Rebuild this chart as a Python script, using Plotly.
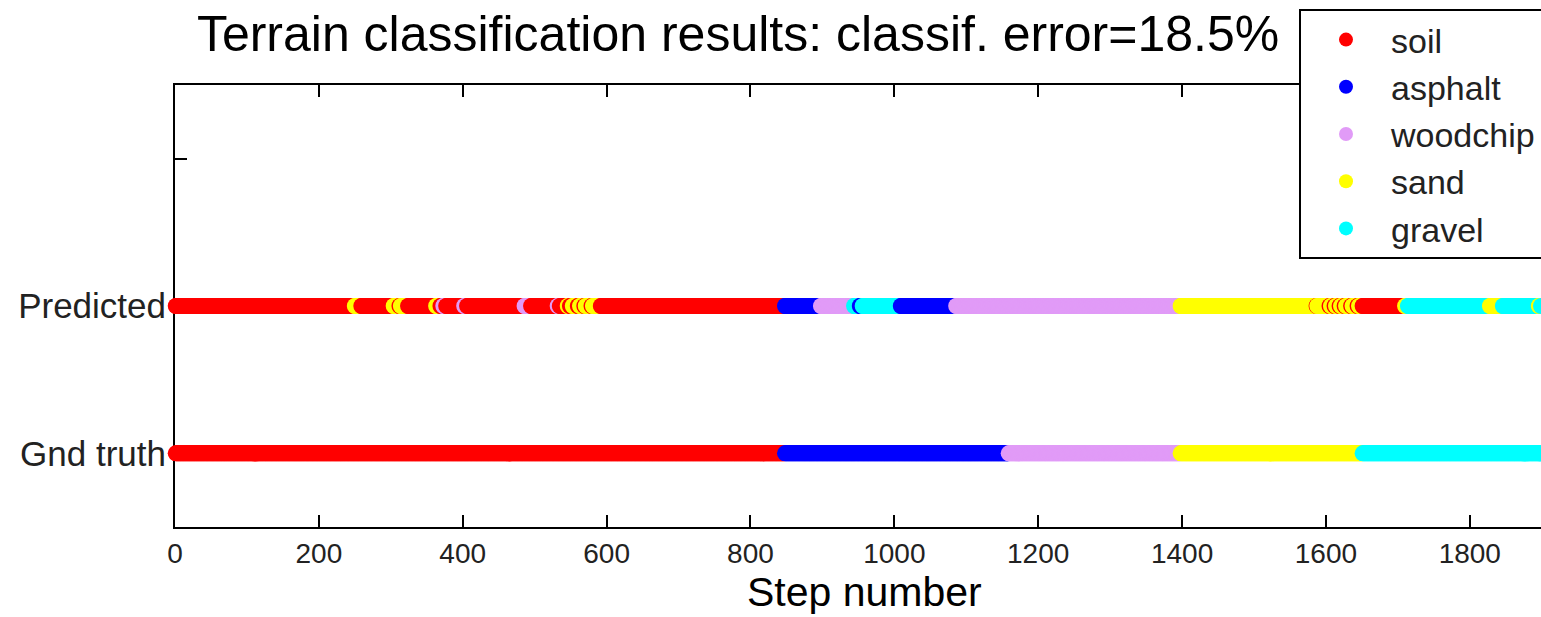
import plotly.graph_objects as go

# ---- data (run-length encoded class sequences) ----
class_names = ["soil", "asphalt", "woodchip", "sand", "gravel"]
class_colors = ["#FF0000", "#0000FF", "#E19BF7", "#FFFF00", "#00FFFF"]

n_steps = 1910

gt_starts = [1, 848, 1159, 1398, 1651]
gt_labels = ["soil", "asphalt", "woodchip", "sand", "gravel"]

pred_starts = [1, 250, 259, 304, 312, 314, 324, 363, 369, 373, 377, 402, 406,
               486, 495, 532, 535, 546, 549, 553, 560, 563, 569, 571, 579, 581,
               592, 848, 898, 944, 952, 956, 1009, 1086, 1398, 1587, 1588, 1605,
               1607, 1612, 1614, 1619, 1621, 1626, 1628, 1635, 1637, 1644, 1646,
               1651, 1710, 1714, 1828, 1846, 1896, 1899]
pred_labels = ["soil", "sand", "soil", "sand", "soil", "sand", "soil", "sand",
               "soil", "woodchip", "soil", "woodchip", "soil",
               "woodchip", "soil", "woodchip", "soil", "sand", "soil", "sand",
               "soil", "sand", "soil", "sand", "soil", "sand",
               "soil", "asphalt", "woodchip", "gravel", "asphalt", "gravel",
               "asphalt", "woodchip", "sand", "soil", "sand", "soil",
               "sand", "soil", "sand", "soil", "sand", "soil", "sand", "soil",
               "sand", "soil", "sand",
               "soil", "sand", "gravel", "sand", "gravel", "sand", "gravel"]

row_labels = ["Gnd truth", "Predicted", ""]
row_values = [1, 2, 3]
x_ticks = [0, 200, 400, 600, 800, 1000, 1200, 1400, 1600, 1800]
x_title = "Step number"


def expand(starts, labels, n):
    seq = []
    for i, s in enumerate(starts):
        e = starts[i + 1] if i + 1 < len(starts) else n + 1
        seq += [labels[i]] * (e - s)
    return seq


color_of = dict(zip(class_names, class_colors))
steps = list(range(1, n_steps + 1))
gt_seq = expand(gt_starts, gt_labels, n_steps)
pred_seq = expand(pred_starts, pred_labels, n_steps)

fig = go.Figure()
for yval, seq in [(1, gt_seq), (2, pred_seq)]:
    fig.add_trace(go.Scatter(
        x=steps, y=[yval] * len(steps), mode="markers", cliponaxis=False,
        marker=dict(size=16, color=[color_of[c] for c in seq], line=dict(width=0)),
        showlegend=False, hoverinfo="skip"))

for name, col in zip(class_names, class_colors):
    fig.add_trace(go.Scatter(
        x=[None], y=[None], mode="markers", name=name,
        marker=dict(size=14, color=col), legendgroup=name))

font_family = "Liberation Sans, Arial, sans-serif"

fig.update_layout(
    width=1541, height=617,
    margin=dict(l=175, r=0, t=85, b=90, autoexpand=False),
    plot_bgcolor="white", paper_bgcolor="white",
    font=dict(family=font_family, color="#111111"),
    title=dict(text="Terrain classification results: classif. error=18.5%",
               x=0.4122, xref="paper", xanchor="center",
               y=1 - 33 / 617, yref="container", yanchor="middle",
               font=dict(size=50, family=font_family, color="#000000")),
    xaxis=dict(range=[0, 1899], tickvals=x_ticks,
               ticks="inside", ticklen=12, tickwidth=1.5, tickcolor="#000000",
               showline=True, linecolor="#000000", linewidth=2, mirror="ticks",
               showgrid=False, zeroline=False, ticklabelstandoff=0,
               tickfont=dict(size=28, color="#222222")),
    yaxis=dict(range=[0.5, 3.5], tickvals=row_values, ticktext=row_labels,
               ticks="inside", ticklen=12, tickwidth=1.5, tickcolor="#000000",
               showline=True, linecolor="#000000", linewidth=2, mirror=False,
               showgrid=False, zeroline=False, layer="below traces",
               tickfont=dict(size=35, color="#222222")),
    legend=dict(x=(1299 - 175) / 1366, xanchor="left", y=1 + 76 / 442, yanchor="top",
                bgcolor="white", bordercolor="#000000", borderwidth=2,
                font=dict(size=34, color="#222222"), tracegroupgap=0,
                itemwidth=80),
    annotations=[dict(text=x_title, xref="paper", yref="paper",
                      x=(864 - 175) / 1366, xanchor="center",
                      y=-(568 - 527) / 442, yanchor="top", showarrow=False,
                      borderpad=0,
                      font=dict(size=41, family=font_family, color="#000000"))],
)

fig.write_html(
    "out.html",
    config={"displayModeBar": False},
    post_script="document.body.style.margin='0';document.body.style.overflow='hidden';",
)
